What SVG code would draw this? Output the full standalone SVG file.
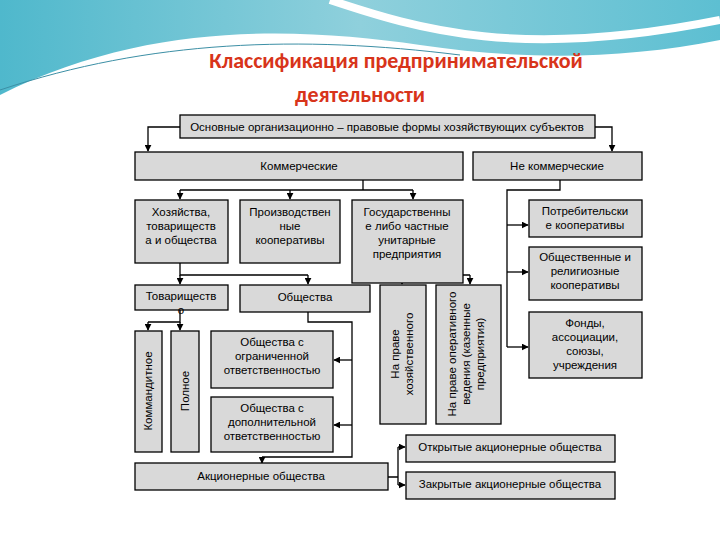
<svg xmlns="http://www.w3.org/2000/svg" width="720" height="540" viewBox="0 0 720 540">
<defs>
<linearGradient id="wave" x1="0" y1="0" x2="1" y2="0"><stop offset="0" stop-color="#4fb8cc"/><stop offset="0.5" stop-color="#8fd0dc"/><stop offset="1" stop-color="#5dbfd2"/></linearGradient>
<marker id="ar" viewBox="0 0 10 10" refX="9" refY="5" markerWidth="7" markerHeight="7" orient="auto" markerUnits="userSpaceOnUse"><path d="M0,0 L10,5 L0,10 z" fill="#000"/></marker>
<style>
.b{fill:#d9d9d9;stroke:#000;stroke-width:1.3}
.t{font-family:"Liberation Sans",Arial,sans-serif;font-size:11.5px;fill:#000;text-anchor:middle}
.c{fill:none;stroke:#000;stroke-width:1.3}
.a{marker-end:url(#ar)}
</style>
</defs>
<rect width="720" height="540" fill="#fff"/>
<path d="M0,0 H720 V40 C620,60 520,60 420,45 C300,28 150,20 0,95 Z" fill="url(#wave)"/>
<path d="M330,0 C420,30 520,60 720,20" fill="none" stroke="#fff" stroke-width="8"/>
<path d="M0,90 C150,40 300,35 460,55" fill="none" stroke="#3c8fa5" stroke-width="1"/>
<text x="396" y="68" font-family="Calibri,'Liberation Sans',sans-serif" font-weight="bold" font-size="22" fill="#d8341a" text-anchor="middle">Классификация предпринимательской</text>
<text x="360" y="102" font-family="Calibri,'Liberation Sans',sans-serif" font-weight="bold" font-size="22" fill="#d8341a" text-anchor="middle">деятельности</text>
<rect x="130" y="108" width="520" height="392" fill="#fff"/>
<g id="connectors">
<path class="c a" d="M180,127 H148 V151"/>
<path class="c a" d="M595,127 H612 V151"/>
<path class="c" d="M363,180 V190 M180,190 H413"/>
<path class="c a" d="M180,190 V199"/><path class="c a" d="M290,190 V199"/><path class="c a" d="M413,190 V199"/>
<path class="c" d="M560,180 V190 H507 V347"/>
<path class="c a" d="M507,225 H528"/><path class="c a" d="M507,272 H528"/><path class="c a" d="M507,347 H528"/>
<path class="c" d="M180,263 V275 H308"/>
<path class="c a" d="M180,275 V284"/><path class="c a" d="M308,275 V284"/>
<path class="c" d="M408,283 V275 H470"/>
<path class="c a" d="M402,275 V284"/><path class="c a" d="M470,275 V284"/>
<path class="c" d="M180,310 V322 H148"/>
<path class="c a" d="M148,322 V330"/><path class="c a" d="M180,322 V330"/>
<path class="c" d="M308,312 V322 H352 V457 H262"/>
<path class="c a" d="M352,360 H334"/><path class="c a" d="M352,425 H334"/>
<path class="c a" d="M262,457 V463"/>
<path class="c" d="M388,477 H398 M398,447 V485"/>
<path class="c a" d="M398,447 H405"/><path class="c a" d="M398,485 H405"/>
</g>
<g id="top"><rect class="b" x="180" y="115" width="415" height="23"/><text class="t" x="387" y="131">Основные организационно – правовые формы хозяйствующих субъектов</text></g>
<g id="comm"><rect class="b" x="135" y="152" width="328" height="28"/><text class="t" x="299" y="170">Коммерческие</text></g>
<g id="noncomm"><rect class="b" x="473" y="152" width="169" height="28"/><text class="t" x="557" y="170">Не коммерческие</text></g>
<g id="hoz"><rect class="b" x="135" y="200" width="93" height="63"/><text class="t" x="181" y="216">Хозяйства,</text><text class="t" x="181" y="230">товариществ</text><text class="t" x="181" y="244">а и общества</text></g>
<g id="proizv"><rect class="b" x="240" y="200" width="100" height="63"/><text class="t" x="290" y="216">Производствен</text><text class="t" x="290" y="230">ные</text><text class="t" x="290" y="244">кооперативы</text></g>
<g id="gos"><rect class="b" x="352" y="200" width="111" height="83"/><text class="t" x="407" y="216">Государственны</text><text class="t" x="407" y="230">е либо частные</text><text class="t" x="407" y="244">унитарные</text><text class="t" x="407" y="258">предприятия</text></g>
<g id="potreb"><rect class="b" x="529" y="200" width="113" height="37"/><text class="t" x="585" y="215">Потребительски</text><text class="t" x="585" y="229">е кооперативы</text></g>
<g id="obsh_rel"><rect class="b" x="529" y="247" width="113" height="53"/><text class="t" x="585" y="261">Общественные и</text><text class="t" x="585" y="275">религиозные</text><text class="t" x="585" y="289">кооперативы</text></g>
<g id="fondy"><rect class="b" x="529" y="312" width="113" height="66"/><text class="t" x="585" y="327">Фонды,</text><text class="t" x="585" y="341">ассоциации,</text><text class="t" x="585" y="355">союзы,</text><text class="t" x="585" y="369">учреждения</text></g>
<g id="tovar"><rect class="b" x="135" y="285" width="93" height="25"/><text class="t" x="181" y="300">Товариществ</text><text class="t" x="181" y="314">о</text></g>
<g id="obshestva"><rect class="b" x="240" y="285" width="130" height="27"/><text class="t" x="305" y="301">Общества</text></g>
<g id="hozved"><rect class="b" x="380" y="285" width="46" height="139"/><text class="t" transform="translate(399,354) rotate(-90)">На праве</text><text class="t" transform="translate(413,354) rotate(-90)">хозяйственного</text></g>
<g id="operved"><rect class="b" x="436" y="285" width="65" height="139"/><text class="t" transform="translate(456,354) rotate(-90)">На праве оперативного</text><text class="t" transform="translate(470,354) rotate(-90)">ведения (казенные</text><text class="t" transform="translate(484,354) rotate(-90)">предприятия)</text></g>
<g id="kommand"><rect class="b" x="135" y="331" width="27" height="121"/><text class="t" transform="translate(152,391) rotate(-90)">Коммандитное</text></g>
<g id="polnoe"><rect class="b" x="171" y="331" width="28" height="121"/><text class="t" transform="translate(189,391) rotate(-90)">Полное</text></g>
<g id="ooo"><rect class="b" x="211" y="331" width="122" height="57"/><text class="t" x="272" y="346">Общества с</text><text class="t" x="272" y="360">ограниченной</text><text class="t" x="272" y="374">ответственностью</text></g>
<g id="odo"><rect class="b" x="211" y="397" width="122" height="55"/><text class="t" x="272" y="412">Общества с</text><text class="t" x="272" y="426">дополнительной</text><text class="t" x="272" y="440">ответственностью</text></g>
<g id="ao"><rect class="b" x="135" y="463" width="253" height="27"/><text class="t" x="261" y="480">Акционерные общества</text></g>
<g id="oao"><rect class="b" x="406" y="435" width="209" height="27"/><text class="t" x="510" y="451">Открытые акционерные общества</text></g>
<g id="zao"><rect class="b" x="406" y="472" width="209" height="27"/><text class="t" x="510" y="488">Закрытые акционерные общества</text></g>
</svg>
